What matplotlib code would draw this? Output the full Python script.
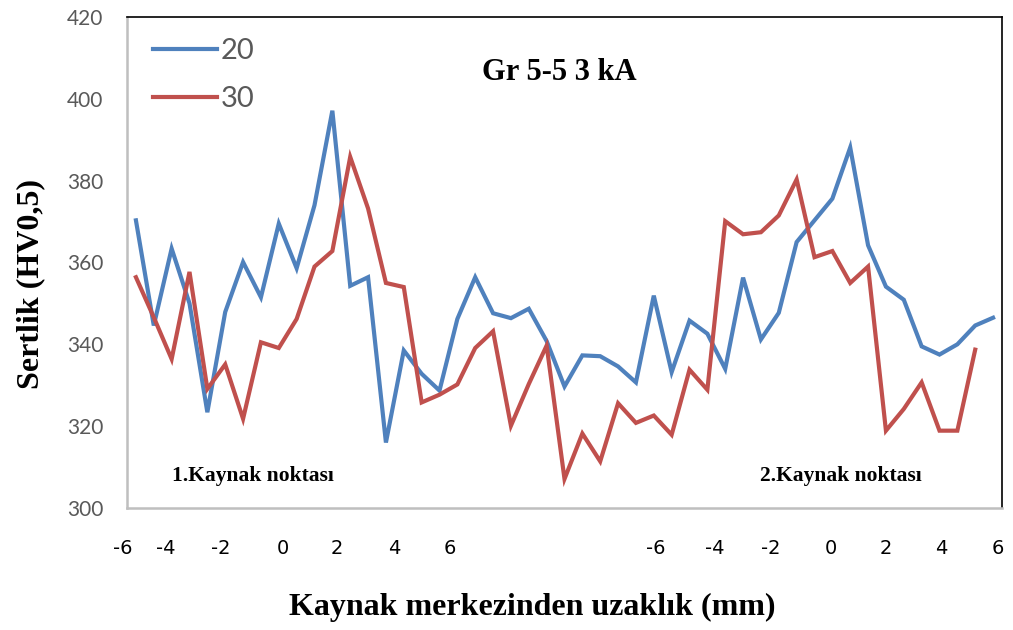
import matplotlib
matplotlib.use("Agg")
import matplotlib.pyplot as plt

# Hardness profile across two weld spots, measured at 49 stations
series_20 = [370.3, 344.6, 363.4, 350.0, 323.4, 347.9, 360.1, 351.5, 369.5, 358.6,
             374.0, 397.1, 354.3, 356.4, 316.0, 338.5, 332.8, 328.7, 346.2, 356.4,
             347.6, 346.4, 348.7, 340.8, 329.7, 337.3, 337.1, 334.6, 330.7, 351.9,
             333.2, 345.8, 342.6, 334.0, 356.3, 341.2, 347.7, 365.0, 370.3, 375.6,
             388.1, 364.2, 354.1, 350.9, 339.5, 337.5, 340.0, 344.6, 346.5]
series_30 = [356.4, 346.6, 336.4, 357.7, 329.1, 335.1, 321.8, 340.5, 339.1, 346.2,
             359.0, 362.8, 385.8, 373.2, 355.0, 354.0, 325.8, 327.7, 330.2, 339.1,
             343.2, 320.1, 330.3, 339.7, 307.1, 318.2, 311.4, 325.6, 320.8, 322.6,
             317.9, 333.8, 328.9, 370.1, 366.9, 367.4, 371.5, 380.3, 361.3, 362.8,
             355.0, 359.0, 318.9, 324.2, 330.7, 318.9, 318.9, 338.7]
series_names = ["20", "30"]

# Distance labels (mm) for the two weld spots, placed along the station index
dist_labels = ["-6", "-4", "-2", "0", "2", "4", "6",
               "-6", "-4", "-2", "0", "2", "4", "6"]
dist_pos = [-0.73, 1.68, 4.76, 8.23, 11.25, 14.45, 17.58,
            29.1, 32.4, 35.55, 38.9, 42.0, 45.1, 48.26]

y_ticks = [300, 320, 340, 360, 380, 400, 420]

BLUE = "#4F81BD"
RED = "#C0504D"
GRAY = "#595959"
SERIF = ["Liberation Serif", "DejaVu Serif"]
W, H = 1013, 630

fig = plt.figure(figsize=(W / 100, H / 100), dpi=100)
ax = fig.add_axes([127 / W, 1 - 508 / H, (1002 - 127) / W, (508 - 17) / H])

x20 = list(range(len(series_20)))
x30 = list(range(len(series_30)))
ax.plot(x20, series_20, color=BLUE, lw=3.0, label=series_names[0], solid_joinstyle="miter")
ax.plot(x30, series_30, color=RED, lw=3.0, label=series_names[1], solid_joinstyle="miter")

ax.set_xlim(-0.5, 48.5)
ax.set_ylim(300, 420)
ax.set_yticks(y_ticks)
ax.set_yticklabels([str(v) for v in y_ticks], family=["Lato", "DejaVu Sans"],
                   fontsize=15, color=GRAY)
ax.tick_params(axis="y", length=0, pad=17)
ax.set_xticks([])

for side in ("left", "bottom"):
    ax.spines[side].set_color("#BFBFBF")
    ax.spines[side].set_linewidth(1.8)
for side in ("top", "right"):
    ax.spines[side].set_color("black")
    ax.spines[side].set_linewidth(1.2)

# Distance tick labels below the frame
xt = ax.get_xaxis_transform()
for pos, lab in zip(dist_pos, dist_labels):
    ax.text(pos, -0.083, lab, transform=xt, ha="center", va="center",
            fontsize=14, family=["Liberation Sans Narrow", "DejaVu Sans"],
            color="black", clip_on=False)

fig.text(31 / W, 1 - 284 / H, "Sertlik (HV0,5)", family=SERIF, fontweight="bold",
         fontsize=23, rotation=90, ha="center", va="center")
fig.text(532 / W, 1 - 607 / H, "Kaynak merkezinden uzaklık (mm)",
         family=SERIF, fontweight="bold", fontsize=23, ha="center", va="center")

fig.text(559 / W, 1 - 72 / H, "Gr 5-5 3 kA", family=SERIF, fontweight="bold",
         fontsize=22, ha="center", va="center")
fig.text(253 / W, 1 - 476 / H, "1.Kaynak noktası", family=SERIF, fontweight="bold",
         fontsize=15.5, ha="center", va="center")
fig.text(841 / W, 1 - 476 / H, "2.Kaynak noktası", family=SERIF, fontweight="bold",
         fontsize=15.5, ha="center", va="center")

leg = ax.legend(loc="upper left", bbox_to_anchor=(0.0, 1.01), frameon=False,
                handlelength=2.2, handletextpad=0.1, labelspacing=0.75,
                prop={"family": ["Lato", "DejaVu Sans"], "size": 21})
for t in leg.get_texts():
    t.set_color(GRAY)

fig.savefig("out.png", dpi=100, facecolor="white")
